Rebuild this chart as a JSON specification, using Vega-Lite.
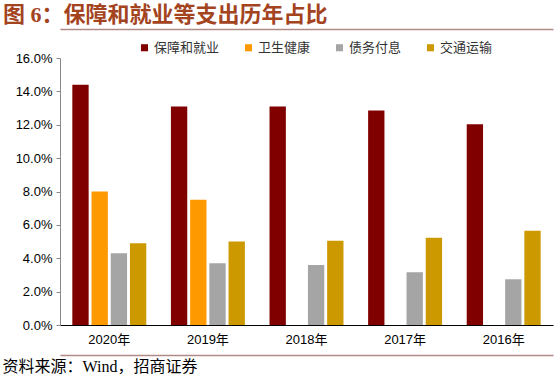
{
  "$schema": "https://vega.github.io/schema/vega-lite/v6.json",
  "width": 493,
  "height": 267,
  "autosize": {"type": "none"},
  "padding": {"left": 60, "top": 58, "right": 1, "bottom": 55},
  "title": {
    "text": "图 6：保障和就业等支出历年占比",
    "anchor": "start",
    "frame": "group",
    "dx": -57,
    "offset": 2,
    "font": "Liberation Serif, Noto Sans CJK SC",
    "fontSize": 22,
    "fontWeight": "bold",
    "color": "#A3441F"
  },
  "config": {"view": {"stroke": null}, "font": "Liberation Sans"},
  "data": {
    "values": [
      {"year": "2020年", "series": "保障和就业", "value": 0.144},
      {"year": "2020年", "series": "卫生健康", "value": 0.080},
      {"year": "2020年", "series": "债务付息", "value": 0.043},
      {"year": "2020年", "series": "交通运输", "value": 0.049},
      {"year": "2019年", "series": "保障和就业", "value": 0.131},
      {"year": "2019年", "series": "卫生健康", "value": 0.075},
      {"year": "2019年", "series": "债务付息", "value": 0.037},
      {"year": "2019年", "series": "交通运输", "value": 0.050},
      {"year": "2018年", "series": "保障和就业", "value": 0.131},
      {"year": "2018年", "series": "卫生健康", "value": null},
      {"year": "2018年", "series": "债务付息", "value": 0.036},
      {"year": "2018年", "series": "交通运输", "value": 0.0505},
      {"year": "2017年", "series": "保障和就业", "value": 0.1285},
      {"year": "2017年", "series": "卫生健康", "value": null},
      {"year": "2017年", "series": "债务付息", "value": 0.0316},
      {"year": "2017年", "series": "交通运输", "value": 0.0523},
      {"year": "2016年", "series": "保障和就业", "value": 0.1203},
      {"year": "2016年", "series": "卫生健康", "value": null},
      {"year": "2016年", "series": "债务付息", "value": 0.0274},
      {"year": "2016年", "series": "交通运输", "value": 0.0565}
    ]
  },
  "layer": [
    {
      "mark": {"type": "bar"},
      "encoding": {
        "x": {
          "field": "year",
          "type": "nominal",
          "sort": ["2020年", "2019年", "2018年", "2017年", "2016年"],
          "scale": {"paddingInner": 0.25, "paddingOuter": 0.125},
          "axis": {
            "title": null,
            "labelAngle": 0,
            "ticks": false,
            "domainColor": "#000000",
            "domainWidth": 1,
            "labelFontSize": 13,
            "labelColor": "#000000",
            "labelPadding": 8,
            "labelFont": "Liberation Sans, Noto Sans CJK SC"
          }
        },
        "xOffset": {
          "field": "series",
          "type": "nominal",
          "sort": ["保障和就业", "卫生健康", "债务付息", "交通运输"],
          "scale": {"paddingInner": 0.15}
        },
        "y": {
          "field": "value",
          "type": "quantitative",
          "scale": {"domain": [0, 0.16]},
          "axis": {
            "title": null,
            "format": ".1%",
            "values": [0, 0.02, 0.04, 0.06, 0.08, 0.1, 0.12, 0.14, 0.16],
            "grid": false,
            "domainColor": "#888888",
            "tickColor": "#888888",
            "tickSize": 4,
            "labelFontSize": 13,
            "labelColor": "#000000",
            "labelPadding": 4,
            "labelFont": "Liberation Sans"
          }
        },
        "color": {
          "field": "series",
          "type": "nominal",
          "sort": ["保障和就业", "卫生健康", "债务付息", "交通运输"],
          "scale": {
            "domain": ["保障和就业", "卫生健康", "债务付息", "交通运输"],
            "range": ["#800000", "#FF9900", "#A5A5A5", "#CC9900"]
          },
          "legend": {
            "title": null,
            "orient": "none",
            "legendX": 78,
            "legendY": -17,
            "direction": "horizontal",
            "symbolType": "square",
            "symbolSize": 50,
            "symbolStrokeWidth": 0,
            "labelFont": "Noto Sans CJK SC",
            "labelFontSize": 13,
            "labelColor": "#333333",
            "columnPadding": 22,
            "labelOffset": 3
          }
        }
      }
    },
    {
      "mark": {"type": "rule", "opacity": 0},
      "encoding": {
        "x": {
          "field": "year",
          "type": "nominal",
          "axis": {
            "orient": "top",
            "offset": 29,
            "title": null,
            "labels": false,
            "ticks": false,
            "domainColor": "#B08A86",
            "domainWidth": 1.5
          }
        }
      }
    },
    {
      "mark": {"type": "rule", "opacity": 0},
      "encoding": {
        "x": {
          "field": "year",
          "type": "nominal",
          "axis": {
            "orient": "bottom",
            "offset": 30,
            "labels": false,
            "ticks": false,
            "domainColor": "#B08A86",
            "domainWidth": 1.5,
            "title": "资料来源：Wind，招商证券",
            "titleX": -58,
            "titleY": 3,
            "titleAlign": "left",
            "titleBaseline": "top",
            "titleFont": "Liberation Serif, Noto Sans CJK SC",
            "titleFontSize": 16,
            "titleFontWeight": "normal",
            "titleColor": "#000000"
          }
        }
      }
    }
  ],
  "resolve": {"scale": {"x": "independent"}, "axis": {"x": "independent"}}
}
